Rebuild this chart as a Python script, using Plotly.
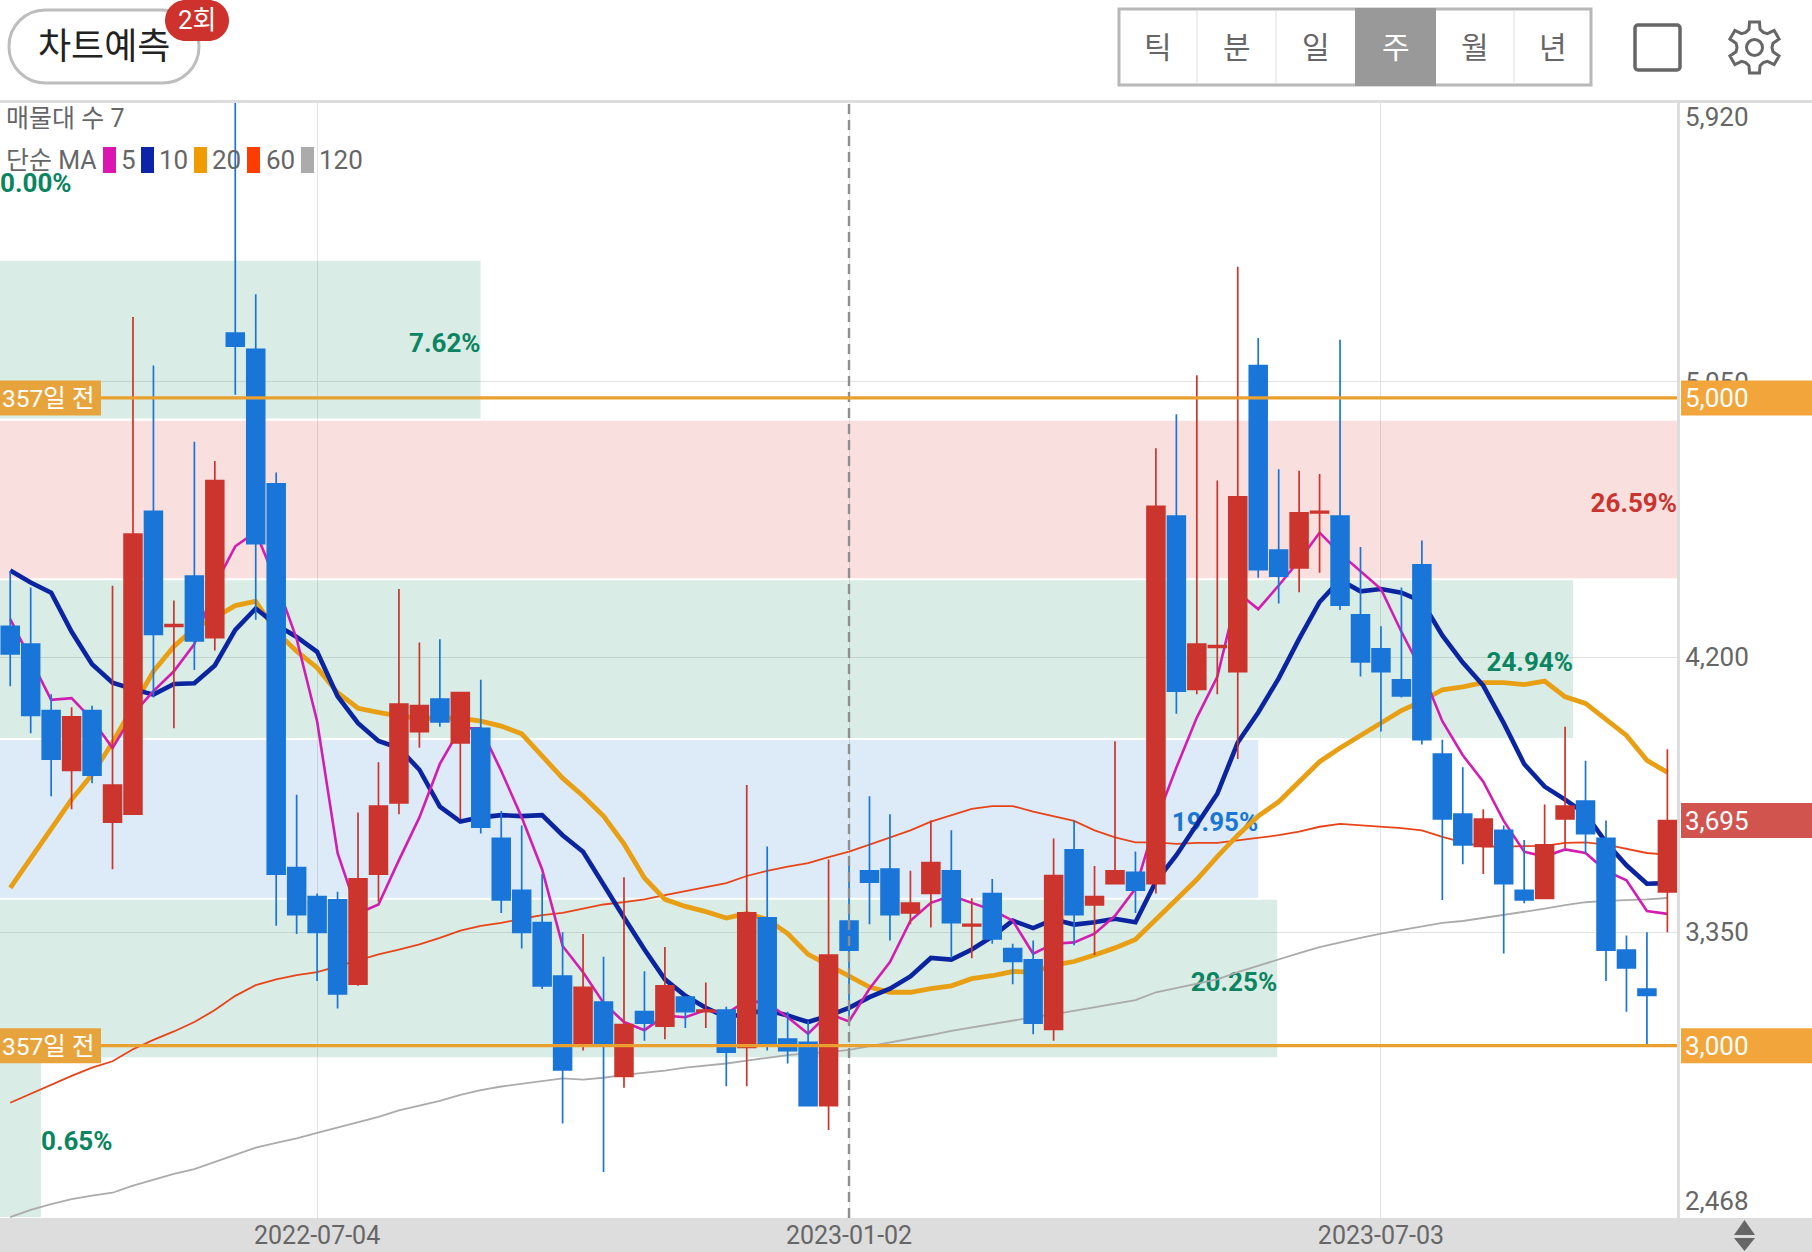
# plot.py
import math
import pandas as pd
import plotly.graph_objects as go

# weekly candles
week_start = '2022-03-21'
n_weeks = 82

opens = [4295, 4240, 4035, 3850, 4035, 3690, 3715, 4650, 4295, 4450, 4260, 5200, 5150, 4735,
         3550, 3460, 3450, 3190, 3530, 3750, 3970, 4070, 3935, 3980, 3640, 3480, 3380, 3215,
         3005, 3135, 2905, 3105, 3060, 3150, 3105, 3110, 2995, 3395, 3020, 3010, 2815, 3385,
         3540, 3545, 3410, 3470, 3540, 3370, 3470, 3300, 3265, 3050, 3605, 3435, 3500, 3535,
         3500, 4635, 4100, 4230, 4155, 5100, 4530, 4475, 4645, 4635, 4330, 4225, 4130, 4485,
         3900, 3715, 3615, 3665, 3480, 3455, 3700, 3755, 3640, 3295, 3175, 3475]
highs = [4465, 4415, 4085, 4045, 4050, 4420, 5250, 5100, 4375, 4865, 4805, 5920, 5320, 4770,
         3775, 3470, 3475, 3720, 3875, 4410, 4245, 4255, 4090, 4130, 3725, 3680, 3530, 3350,
         3345, 3275, 3520, 3230, 3305, 3150, 3195, 3120, 3805, 3615, 3105, 3075, 3575, 3560,
         3770, 3715, 3540, 3695, 3665, 3455, 3515, 3315, 3325, 3640, 3695, 3555, 3940, 3600,
         4845, 4950, 5070, 4745, 5405, 5185, 4780, 4775, 4765, 5180, 4540, 4295, 4415, 4560,
         3945, 3860, 3730, 3680, 3635, 3745, 3985, 3880, 3695, 3340, 3350, 3915]
lows = [4110, 3965, 3770, 3730, 3810, 3545, 3715, 4075, 3980, 4160, 4220, 5010, 4315, 3370,
        3345, 3200, 3115, 3185, 3445, 3715, 3920, 3985, 3700, 3655, 3410, 3300, 3175, 2760,
        2985, 2610, 2870, 3015, 3020, 3055, 3055, 2875, 2875, 2985, 2945, 2815, 2740, 3090,
        3375, 3325, 3375, 3365, 3270, 3270, 3315, 3190, 3035, 3015, 3310, 3280, 3500, 3410,
        3470, 4025, 4085, 4085, 3885, 4445, 4365, 4400, 4460, 4345, 4140, 3970, 4075, 3930,
        3450, 3560, 3530, 3285, 3440, 3455, 3610, 3595, 3200, 3105, 3005, 3350]
closes = [4210, 4020, 3885, 4015, 3835, 3805, 4580, 4270, 4300, 4250, 4745, 5160, 4550, 3530,
          3405, 3350, 3160, 3515, 3740, 4055, 4050, 4000, 4090, 3675, 3450, 3350, 3185, 2925,
          3180, 3005, 3065, 3070, 3185, 3105, 3110, 2980, 3410, 3005, 2985, 2815, 3280, 3295,
          3505, 3405, 3440, 3565, 3380, 3375, 3330, 3260, 3070, 3525, 3405, 3460, 3540, 3480,
          4665, 4095, 4240, 4235, 4695, 4470, 4450, 4645, 4650, 4360, 4185, 4155, 4080, 3945,
          3700, 3620, 3700, 3500, 3450, 3620, 3740, 3655, 3295, 3240, 3155, 3695]

ma5 = [4317, 4190, 4068, 4073, 4007, 3919, 4024, 4095, 4156, 4240, 4421, 4542, 4586, 4432,
       4256, 4002, 3595, 3408, 3436, 3573, 3705, 3870, 3980, 3980, 3848, 3705, 3544, 3308,
       3227, 3132, 3073, 3048, 3093, 3088, 3110, 3099, 3139, 3132, 3088, 3037, 3099, 3075,
       3176, 3258, 3386, 3441, 3463, 3441, 3419, 3386, 3284, 3315, 3319, 3346, 3401, 3485,
       3694, 3859, 4013, 4139, 4399, 4348, 4421, 4498, 4584, 4520, 4465, 4410, 4278, 4156,
       4002, 3897, 3815, 3694, 3599, 3584, 3606, 3595, 3540, 3511, 3416, 3407]
ma10 = [4467, 4430, 4399, 4278, 4178, 4121, 4101, 4084, 4117, 4119, 4174, 4284, 4350, 4300,
        4262, 4216, 4079, 3996, 3941, 3919, 3852, 3738, 3692, 3705, 3712, 3709, 3712, 3650,
        3599, 3496, 3396, 3297, 3205, 3154, 3117, 3088, 3099, 3110, 3093, 3073, 3093, 3117,
        3150, 3176, 3214, 3271, 3266, 3297, 3337, 3386, 3363, 3390, 3374, 3381, 3392, 3381,
        3507, 3588, 3683, 3778, 3936, 4029, 4134, 4256, 4370, 4438, 4403, 4410, 4399, 4372,
        4267, 4183, 4112, 3996, 3870, 3800, 3760, 3716, 3628, 3557, 3500, 3502]
ma20 = [3487, 3579, 3672, 3760, 3837, 3936, 4046, 4156, 4233, 4289, 4322, 4359, 4372, 4278,
        4218, 4167, 4090, 4042, 4029, 4018, 4011, 4011, 4011, 4002, 3987, 3963, 3892, 3826,
        3771, 3709, 3623, 3518, 3452, 3430, 3414, 3394, 3408, 3390, 3346, 3282, 3249, 3214,
        3181, 3165, 3165, 3176, 3185, 3207, 3216, 3229, 3227, 3249, 3260, 3280, 3302, 3328,
        3390, 3447, 3513, 3584, 3650, 3709, 3753, 3815, 3877, 3919, 3958, 3998, 4035, 4064,
        4099, 4108, 4121, 4121, 4115, 4126, 4077, 4057, 4007, 3958, 3881, 3844]
ma60 = [2824, 2852, 2881, 2907, 2932, 2952, 2989, 3018, 3044, 3073, 3110, 3154, 3187, 3205,
        3218, 3227, 3245, 3264, 3282, 3297, 3313, 3333, 3355, 3370, 3379, 3392, 3403, 3410,
        3423, 3436, 3443, 3452, 3465, 3478, 3491, 3502, 3524, 3540, 3553, 3564, 3582, 3599,
        3621, 3643, 3665, 3692, 3712, 3731, 3740, 3740, 3723, 3709, 3694, 3665, 3643, 3628,
        3628, 3623, 3626, 3626, 3634, 3641, 3650, 3661, 3676, 3685, 3681, 3678, 3672, 3665,
        3645, 3628, 3615, 3615, 3615, 3617, 3626, 3628, 3621, 3608, 3595, 3590]
ma120 = [2471, 2493, 2511, 2526, 2537, 2546, 2568, 2586, 2604, 2619, 2641, 2665, 2685, 2700,
         2714, 2731, 2747, 2762, 2780, 2800, 2815, 2830, 2848, 2863, 2874, 2883, 2892, 2899,
         2895, 2901, 2910, 2916, 2923, 2932, 2938, 2945, 2954, 2963, 2971, 2976, 2980, 2987,
         2998, 3011, 3022, 3033, 3046, 3057, 3066, 3077, 3088, 3097, 3108, 3119, 3130, 3141,
         3165, 3178, 3192, 3205, 3227, 3247, 3267, 3286, 3304, 3319, 3333, 3346, 3357, 3370,
         3379, 3385, 3394, 3405, 3414, 3423, 3434, 3443, 3447, 3449, 3452, 3456]

# volume by price, bottom band first
band_labels = ['0.65%', '20.25%', '19.95%', '24.94%', '26.59%', '7.62%', '0.00%']
band_pct = [0.65, 20.25, 19.95, 24.94, 26.59, 7.62, 0.00]
band_mid = [2714.5, 3207.5, 3700.5, 4193.5, 4686.5, 5180, 5673]
band_colors = ['rgba(0,130,90,0.15)', 'rgba(0,130,90,0.15)', 'rgba(25,118,210,0.15)',
               'rgba(0,130,90,0.15)', 'rgba(220,40,40,0.15)', 'rgba(0,130,90,0.15)',
               'rgba(0,130,90,0.15)']
band_text_colors = ['#0B8461', '#0B8461', '#1976D2', '#0B8461', '#C9352E', '#0B8461', '#0B8461']
band_text_pos = ['middle right', 'middle left', 'middle left', 'middle left', 'middle left',
                 'middle left', 'middle right']

y_ticks = [5050, 4200, 3350]
y_tick_text = ['5,050', '4,200', '3,350']
x_ticks = ['2022-07-04', '2023-01-02', '2023-07-03']

ma_legend = [('5', '#DB16B0'), ('10', '#0B24A8'), ('20', '#EE9C00'), ('60', '#FF3D00'), ('120', '#ABABAB')]
tab_labels = ['틱', '분', '일', '주', '월', '년']

FONT = "Roboto, 'Noto Sans CJK KR', sans-serif"
WIDTH, HEIGHT = 1812, 1252
PLOT_R, PLOT_T, PLOT_B = 1677, 100, 1218
X_RANGE = ['2022-03-17 12:00', '2023-10-12 07:00']
LABEL_NUDGE = 17  # band labels sit slightly under the middle of the band


# pixel position to paper position, used only for the page furniture around the chart
def px(x):
    return x / PLOT_R


def py(y):
    return 1 - (y - PLOT_T) / (PLOT_B - PLOT_T)


def rounded_rect(x0, y0, x1, y1, r):
    k = r * 0.45
    pts = [('M', x0 + r, y0), ('L', x1 - r, y0),
           ('C', x1 - k, y0, x1, y0 + k, x1, y0 + r), ('L', x1, y1 - r),
           ('C', x1, y1 - k, x1 - k, y1, x1 - r, y1), ('L', x0 + r, y1),
           ('C', x0 + k, y1, x0, y1 - k, x0, y1 - r), ('L', x0, y0 + r),
           ('C', x0, y0 + k, x0 + k, y0, x0 + r, y0)]
    out = ''
    for p in pts:
        coords = p[1:]
        out += p[0] + ' '.join(f'{px(coords[i])},{py(coords[i + 1])}' for i in range(0, len(coords), 2)) + ' '
    return out + 'Z'


def poly(points):
    return 'M' + ' L'.join(f'{px(x)},{py(y)}' for x, y in points) + ' Z'


def gear(cx, cy, r_out, r_in):
    points = []
    for k in range(6):
        a = math.radians(-90 + 60 * k)
        for da, r in [(-30, r_in * 0.92), (-17, r_in), (-11, r_out), (11, r_out), (17, r_in)]:
            t = a + math.radians(da)
            points.append((cx + r * math.cos(t), cy + r * math.sin(t)))
    return poly(points)


def circle(cx, cy, r):
    return dict(type='circle', xref='paper', yref='paper', x0=px(cx - r), x1=px(cx + r),
                y0=py(cy + r), y1=py(cy - r), line=dict(color='#666666', width=3))


def rect(x0, y0, x1, y1, fill, line_color=None, line_width=0, layer='above'):
    return dict(type='rect', xref='paper', yref='paper', x0=px(x0), x1=px(x1), y0=py(y1), y1=py(y0),
                fillcolor=fill, line=dict(color=line_color or fill, width=line_width), layer=layer)


def label(text, x, y, size, color, anchor='left', **kw):
    return dict(text=text, x=px(x), y=py(y), xref='paper', yref='paper', showarrow=False,
                xanchor=anchor, yanchor='middle', font=dict(family=FONT, size=size, color=color), **kw)


dates = pd.date_range(week_start, periods=n_weeks, freq='7D')

fig = go.Figure()

# volume bands sit on their own percent axis, under everything else
fig.add_trace(go.Bar(
    y=band_mid, x=band_pct, orientation='h', width=487,
    marker=dict(color=band_colors, line_width=0),
    xaxis='x', yaxis='y',
))
fig.add_trace(go.Scatter(
    x=band_pct, y=[m - LABEL_NUDGE for m in band_mid], mode='text',
    text=band_labels, textposition=band_text_pos, cliponaxis=False,
    textfont=dict(family=FONT, size=26, color=band_text_colors, weight='bold'),
    xaxis='x', yaxis='y',
))

for values, color, lw in [(ma120, '#ABABAB', 1.8), (ma60, '#E8441A', 1.8), (ma20, '#E89F14', 4.8),
                          (ma10, '#0B24A0', 4.6), (ma5, '#D21EB0', 2.6)]:
    fig.add_trace(go.Scatter(x=dates, y=values, mode='lines', line=dict(color=color, width=lw),
                             xaxis='x2', yaxis='y'))

fig.add_trace(go.Candlestick(
    x=dates, open=opens, high=highs, low=lows, close=closes,
    increasing=dict(line=dict(color='#CB352D', width=1.7), fillcolor='#CB352D'),
    decreasing=dict(line=dict(color='#1976D8', width=1.7), fillcolor='#1976D8'),
    whiskerwidth=0, xaxis='x3', yaxis='y',
))

shapes = [
    rect(0, PLOT_B, WIDTH, HEIGHT, '#DDDDDD', layer='below'),
    rect(0, 100, WIDTH, 103, '#DDDDDD'),
    dict(type='line', xref='x2', yref='paper', x0=x_ticks[1], x1=x_ticks[1], y0=0, y1=1,
         line=dict(color='#8F8F8F', width=2.4, dash='10px,6px'), layer='above'),
]
annotations = []

# support lines and their tags
for price, text in [(5000, '5,000'), (3000, '3,000')]:
    shapes.append(dict(type='line', xref='paper', yref='y', x0=0, x1=1, y0=price, y1=price,
                       line=dict(color='#E9A02F', width=3.2), layer='above'))
    for x0, x1, col in [(0, 101, '#E8A43C'), (1681, 1812, '#F1A53A')]:
        shapes.append(dict(type='rect', xref='paper', yref='y', x0=px(x0), x1=px(x1), ysizemode='pixel',
                           yanchor=price, y0=-17.5, y1=17.5, fillcolor=col, line_width=0, layer='above'))
    annotations.append(dict(text='357일 전', x=0, y=price, xref='paper', yref='y', showarrow=False,
                            xanchor='left', yshift=-1, font=dict(family=FONT, size=24.5, color='white')))
    annotations.append(dict(text=text, x=px(1683), y=price, xref='paper', yref='y', showarrow=False,
                            xanchor='left', font=dict(family=FONT, size=26, color='white')))

shapes.append(dict(type='rect', xref='paper', yref='y', x0=px(1681), x1=px(1812), ysizemode='pixel',
                   yanchor=closes[-1], y0=-17.5, y1=17.5, fillcolor='#D2544E', line_width=0, layer='above'))
annotations.append(dict(text=f'{closes[-1]:,}', x=px(1683), y=closes[-1], xref='paper', yref='y',
                        showarrow=False, xanchor='left', font=dict(family=FONT, size=26, color='white')))

# axis end labels stay inside the plot height
annotations.append(label('5,920', 1683, 117, 26, '#666666'))
annotations.append(label('2,468', 1683, 1201, 26, '#666666'))

# top left captions
annotations.append(label('매물대 수 7', 4, 118, 25, '#666666'))
annotations.append(label('단순 MA', 4, 160, 25, '#666666'))
for (name, col), sq_x, tx in zip(ma_legend, [103, 141, 194, 247, 301], [119, 157, 210, 264, 317]):
    shapes.append(rect(sq_x, 147, sq_x + 13, 173, col))
    annotations.append(label(name, tx, 160, 26, '#666666'))

# chart predict button and badge
shapes.append(dict(type='path', xref='paper', yref='paper', path=rounded_rect(9, 10, 199, 83, 36),
                   line=dict(color='#BDBDBD', width=3), fillcolor='white'))
shapes.append(dict(type='path', xref='paper', yref='paper', path=rounded_rect(165, 0, 229, 41, 20.5),
                   line_width=0, fillcolor='#CE322C'))
annotations.append(label('차트예측', 104, 47, 36, '#222222', anchor='center'))
annotations.append(label('2회', 197, 20, 26, 'white', anchor='center'))

# period tabs
tab_edges = [1119, 1197, 1276, 1355, 1436, 1514, 1591]
shapes.append(rect(1119, 9, 1591, 85, 'white', '#B8B8B8', 3))
for i, text in enumerate(tab_labels):
    x0, x1 = tab_edges[i], tab_edges[i + 1]
    if text == '주':
        shapes.append(rect(x0, 8, x1, 86, '#999999'))
    elif i > 0 and tab_labels[i - 1] != '주':
        shapes.append(rect(x0 - 1, 11, x0 + 1, 83, '#EEEEEE'))
    annotations.append(label(text, (x0 + x1) / 2, 48, 30, 'white' if text == '주' else '#666666', anchor='center'))

# square icon, gear, sort arrows
shapes.append(dict(type='path', xref='paper', yref='paper', path=rounded_rect(1635, 25, 1680, 70, 3),
                   line=dict(color='#666666', width=3.5)))
shapes.append(dict(type='path', xref='paper', yref='paper', path=gear(1754.5, 47.5, 26, 19),
                   line=dict(color='#666666', width=3)))
shapes.append(circle(1754.5, 47.5, 8))
shapes.append(dict(type='path', xref='paper', yref='paper', fillcolor='#666666', line_width=0,
                   path=poly([(1734, 1235), (1755, 1235), (1744.5, 1220)])))
shapes.append(dict(type='path', xref='paper', yref='paper', fillcolor='#666666', line_width=0,
                   path=poly([(1734, 1238), (1755, 1238), (1744.5, 1251)])))

fig.update_layout(
    width=WIDTH, height=HEIGHT,
    margin=dict(l=0, r=WIDTH - PLOT_R, t=PLOT_T, b=HEIGHT - PLOT_B),
    paper_bgcolor='white', plot_bgcolor='white',
    showlegend=False, hovermode=False, dragmode=False,
    boxgap=0.13, boxgroupgap=0,
    shapes=shapes, annotations=annotations,
    xaxis=dict(range=[0, 26.59], visible=False, showgrid=False, fixedrange=True),
    xaxis2=dict(
        overlaying='x', anchor='y', side='bottom', type='date', range=X_RANGE,
        tickvals=x_ticks, ticktext=x_ticks, ticks='',
        tickfont=dict(family=FONT, size=25, color='#666666'),
        showgrid=True, gridcolor='#E3E3E3', gridwidth=1,
        zeroline=False, showline=False, fixedrange=True,
    ),
    # candles get their own overlay so they cover the moving averages
    xaxis3=dict(
        overlaying='x', anchor='y', side='bottom', type='date', range=X_RANGE,
        visible=False, showgrid=False, rangeslider=dict(visible=False), fixedrange=True,
    ),
    yaxis=dict(
        range=[2468, 5920], side='right', tickvals=y_ticks, ticktext=y_tick_text, ticks='',
        tickfont=dict(family=FONT, size=26, color='#666666'),
        showgrid=True, gridcolor='#E3E3E3', gridwidth=1, zeroline=False,
        showline=True, linecolor='#DDDDDD', linewidth=3, fixedrange=True,
    ),
)

fig.write_html('out.html', config={'displayModeBar': False},
               post_script="document.body.style.margin='0';document.body.style.overflow='hidden';")
